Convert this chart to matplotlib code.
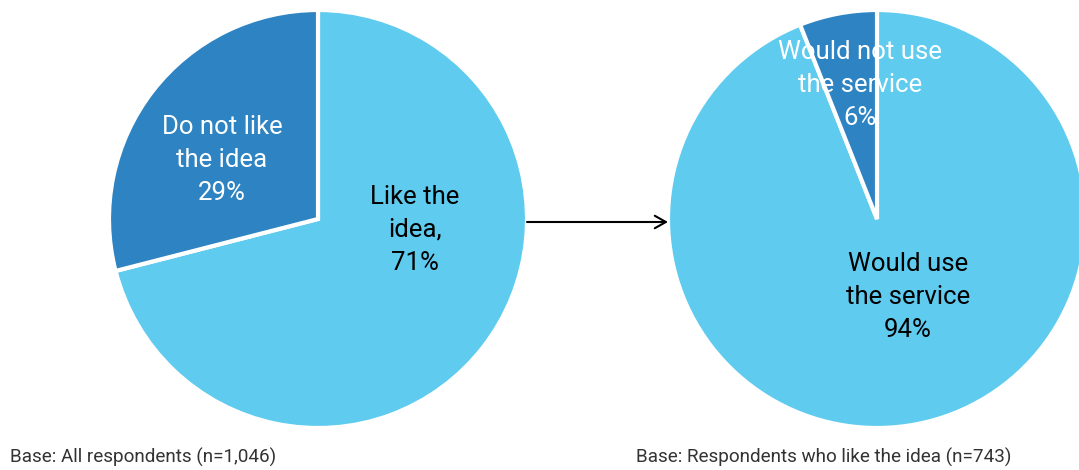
import matplotlib
matplotlib.use("Agg")
import matplotlib.pyplot as plt

plt.rcParams["font.family"] = ["Roboto", "DejaVu Sans"]

# data
like_labels = ["Like the\nidea,", "Do not like\nthe idea"]
like_values = [71, 29]
use_labels = ["Would use\nthe service", "Would not use\nthe service"]
use_values = [94, 6]
base_left = "Base: All respondents (n=1,046)"
base_right = "Base: Respondents who like the idea (n=743)"

light = "#5ECBEF"
dark = "#2E83C2"

W, H = 1079, 470
fig = plt.figure(figsize=(W / 100, H / 100), dpi=100)
ax = fig.add_axes([0, 0, 1, 1])

R = 209
c_left = (318, H - 219)
c_right = (877, H - 219)

ax.pie(like_values, colors=[light, dark], startangle=90, counterclock=False,
       center=c_left, radius=R, frame=True,
       wedgeprops=dict(edgecolor="white", linewidth=3))
ax.pie(use_values, colors=[light, dark], startangle=90, counterclock=False,
       center=c_right, radius=R, frame=True,
       wedgeprops=dict(edgecolor="white", linewidth=3))

ax.set_xlim(0, W)
ax.set_ylim(0, H)
ax.set_aspect("equal")
ax.axis("off")

fs = 18.5
ls = 1.45
# left pie labels
ax.text(c_left[0] + 97, c_left[1] - 11, f"{like_labels[0]}\n{like_values[0]}%",
        ha="center", va="center", fontsize=fs, color="black", linespacing=ls)
ax.text(c_left[0] - 96, c_left[1] + 59, f"{like_labels[1]}\n{like_values[1]}%",
        ha="center", va="center", fontsize=fs, color="white", linespacing=ls)
# right pie labels
ax.text(c_right[0] + 31, c_right[1] - 78, f"{use_labels[0]}\n{use_values[0]}%",
        ha="center", va="center", fontsize=fs, color="black", linespacing=ls)
ax.text(c_right[0] - 17, c_right[1] + 134, f"{use_labels[1]}\n{use_values[1]}%",
        ha="center", va="center", fontsize=fs, color="white", linespacing=ls)

# arrow linking the two pies
ax.annotate("", xy=(c_right[0] - R, H - 222), xytext=(c_left[0] + R, H - 222),
            arrowprops=dict(arrowstyle="->,head_length=0.8,head_width=0.45",
                            color="black", lw=1.5, shrinkA=0, shrinkB=0))

ax.text(10, H - 457, base_left, ha="left", va="center", fontsize=13.6, color="#333333")
ax.text(636, H - 457, base_right, ha="left", va="center", fontsize=13.6, color="#333333")

fig.savefig("out.png", dpi=100)
